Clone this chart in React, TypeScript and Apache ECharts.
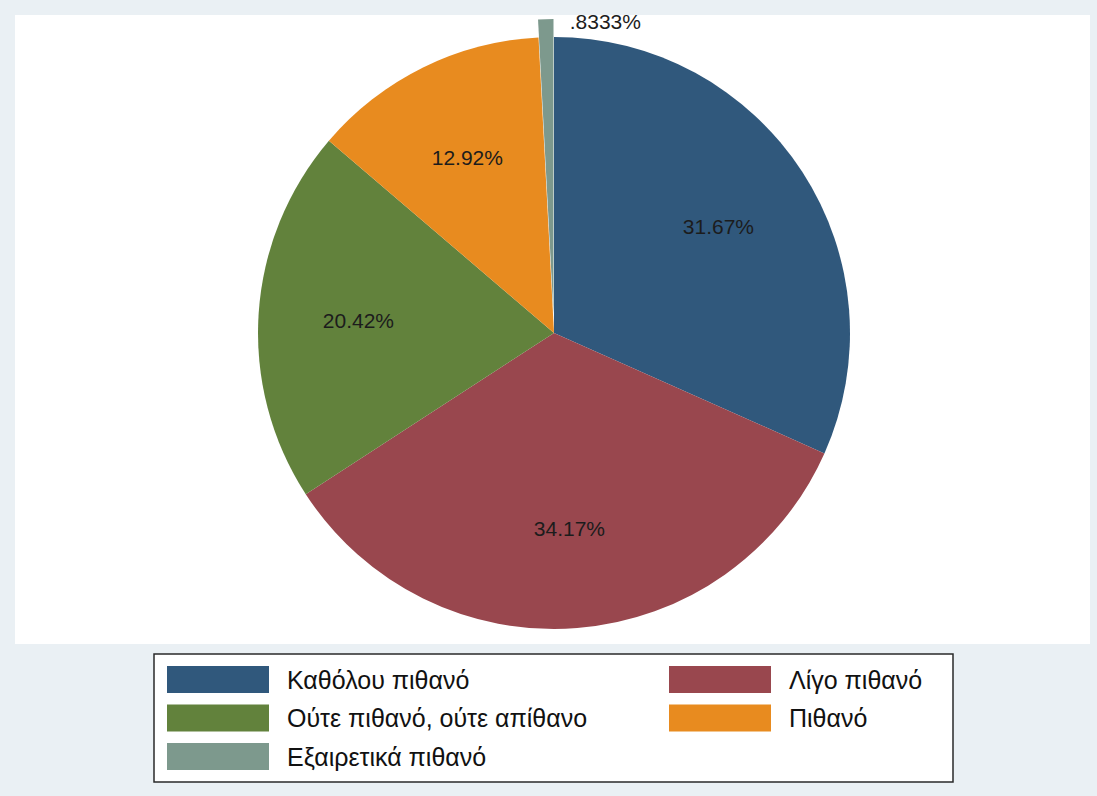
import React, { useEffect, useRef } from "react";
import * as echarts from "echarts";

const categories = [
  "Καθόλου πιθανό",
  "Λίγο πιθανό",
  "Ούτε πιθανό, ούτε απίθανο",
  "Πιθανό",
  "Εξαιρετικά πιθανό",
];
const counts = [76, 82, 49, 31, 2];
const colors = ["#30587c", "#99474e", "#62823c", "#e88b1f", "#7d998d"];
const legendLeft = ["Καθόλου πιθανό", "Ούτε πιθανό, ούτε απίθανο", "Εξαιρετικά πιθανό"];
const legendRight = ["Λίγο πιθανό", "Πιθανό"];
const explodedIndex = 4;

const total = counts.reduce((a, b) => a + b, 0);
const fmtPct = (v: number) => {
  const s = ((v / total) * 100).toPrecision(4);
  return (s.startsWith("0.") ? s.slice(1) : s) + "%";
};

export default function App() {
  const ref = useRef<HTMLDivElement>(null);
  useEffect(() => {
    document.body.style.margin = "0";
    if (!ref.current) return;
    const chart = echarts.init(ref.current, undefined, { renderer: "svg" });
    const font = "Liberation Sans, Arial, sans-serif";
    const baseData = categories.map((name, i) => ({
      name,
      value: counts[i],
      itemStyle: { color: colors[i] },
      selected: i === explodedIndex,
    }));
    const labelData = categories.map((name, i) => ({
      name,
      value: counts[i],
      itemStyle: { color: "rgba(0,0,0,0)" },
      label: { show: i !== explodedIndex },
    }));
    const outerLabelData = categories.map((name, i) => ({
      name,
      value: counts[i],
      itemStyle: { color: "rgba(0,0,0,0)" },
      label: { show: i === explodedIndex },
    }));
    const legendText = { fontFamily: font, fontSize: 25, color: "#111", padding: [0, 0, 0, 13] };
    chart.setOption({
      animation: false,
      backgroundColor: "#eaf0f4",
      graphic: [
        {
          type: "rect",
          shape: { x: 15, y: 15, width: 1075, height: 629 },
          style: { fill: "#ffffff" },
          z: -10,
        },
        {
          type: "rect",
          shape: { x: 154, y: 654, width: 799, height: 128 },
          style: { fill: "#ffffff", stroke: "#2a2a2a", lineWidth: 1.5 },
          z: -5,
        },
      ],
      legend: [
        {
          data: legendLeft,
          orient: "vertical",
          left: 167,
          top: 666,
          padding: 0,
          itemWidth: 102,
          itemHeight: 27,
          itemGap: 11.5,
          icon: "rect",
          selectedMode: false,
          textStyle: legendText,
        },
        {
          data: legendRight,
          orient: "vertical",
          left: 669,
          top: 666,
          padding: 0,
          itemWidth: 102,
          itemHeight: 27,
          itemGap: 11.5,
          icon: "rect",
          selectedMode: false,
          textStyle: legendText,
        },
      ],
      series: [
        {
          type: "pie",
          center: [554, 333],
          radius: [0, 296],
          startAngle: 90,
          clockwise: true,
          selectedMode: "multiple",
          selectedOffset: 18,
          avoidLabelOverlap: false,
          silent: true,
          itemStyle: { borderWidth: 0 },
          label: { show: false },
          labelLine: { show: false },
          emphasis: { disabled: true },
          data: baseData,
        },
        {
          type: "pie",
          center: [554, 333],
          radius: [178, 208],
          startAngle: 90,
          clockwise: true,
          silent: true,
          avoidLabelOverlap: false,
          itemStyle: { borderWidth: 0 },
          label: {
            position: "inside",
            fontFamily: font,
            fontSize: 21,
            color: "#1c1c1c",
            formatter: (p: any) => fmtPct(p.value),
          },
          labelLine: { show: false },
          emphasis: { disabled: true },
          data: labelData,
        },
        {
          type: "pie",
          center: [554, 333],
          radius: [304, 314],
          startAngle: 90,
          clockwise: true,
          silent: true,
          avoidLabelOverlap: false,
          itemStyle: { borderWidth: 0 },
          label: {
            position: "inside",
            fontFamily: font,
            fontSize: 21,
            color: "#1c1c1c",
            padding: [0, 0, 0, 119],
            formatter: (p: any) => fmtPct(p.value),
          },
          labelLine: { show: false },
          emphasis: { disabled: true },
          data: outerLabelData,
        },
      ],
    });
    return () => chart.dispose();
  }, []);
  return <div ref={ref} style={{ width: 1097, height: 796 }} />;
}
